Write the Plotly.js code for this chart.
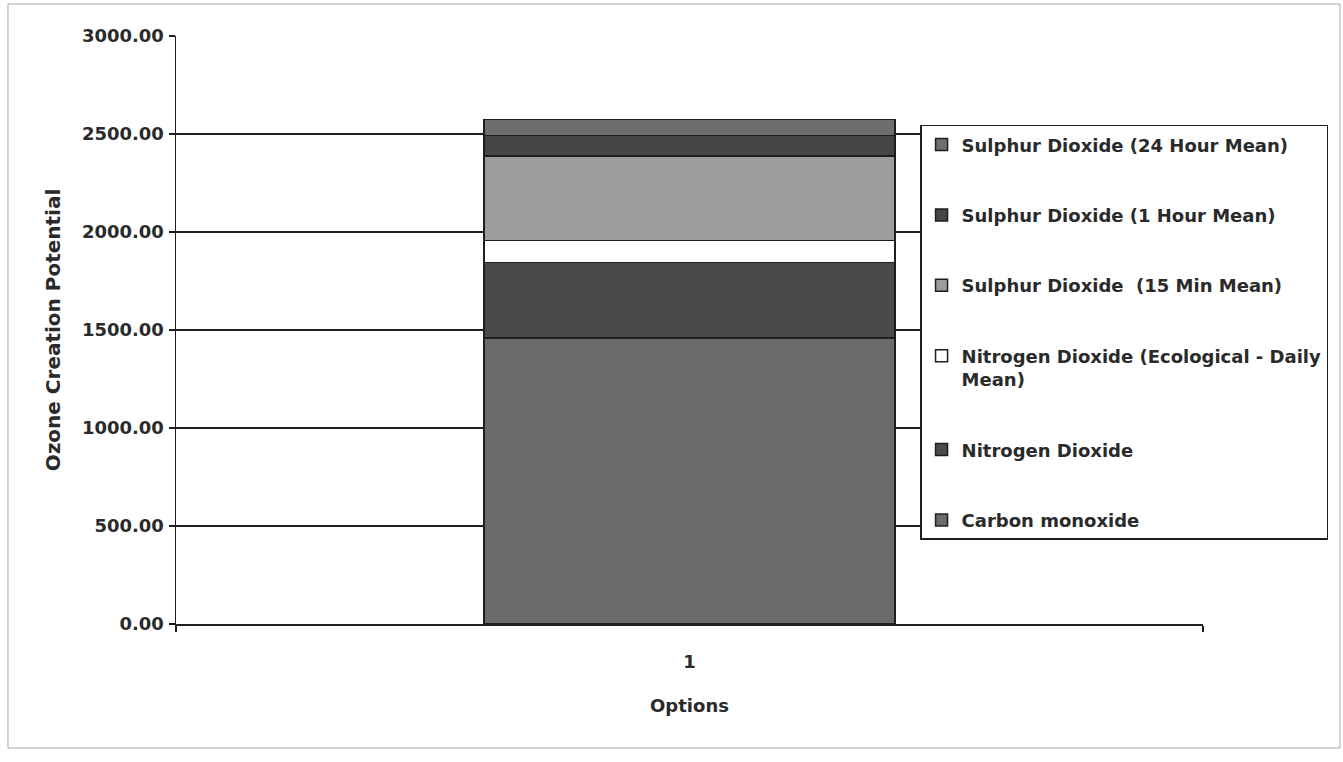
<!DOCTYPE html>
<html>
<head>
<meta charset="utf-8">
<script src="https://cdn.plot.ly/plotly-3.0.1.min.js"></script>
<style>
  html, body { margin: 0; padding: 0; background: #ffffff; }
  #chart { width: 1343px; height: 762px; }
</style>
</head>
<body>
<div id="chart"></div>
<script>
// Ozone creation potential by pollutant, stacked for option 1
const categories = ['1'];

const seriesNames = [
  'Carbon monoxide',
  'Nitrogen Dioxide',
  'Nitrogen Dioxide (Ecological - Daily<br>Mean)',
  'Sulphur Dioxide  (15 Min Mean)',
  'Sulphur Dioxide (1 Hour Mean)',
  'Sulphur Dioxide (24 Hour Mean)'
];

const carbonMonoxide   = [1460];
const nitrogenDioxide  = [384];
const no2Ecological    = [113];
const so2FifteenMin    = [431];
const so2OneHour       = [104];
const so2TwentyFourHr  = [82];

const seriesValues = [
  carbonMonoxide, nitrogenDioxide, no2Ecological,
  so2FifteenMin, so2OneHour, so2TwentyFourHr
];

const seriesColors = ['#6b6b6b', '#4a4a4a', '#ffffff', '#9c9c9c', '#454545', '#6e6e6e'];

const yTickValues = [0, 500, 1000, 1500, 2000, 2500, 3000];
const yTickLabels = ['0.00', '500.00', '1000.00', '1500.00', '2000.00', '2500.00', '3000.00'];

const FONT = 'DejaVu Sans, Arial, sans-serif';
const INK = '#2a2a2a';

// Legend lists the top of the stack first
const traces = seriesNames.map((name, i) => ({
  type: 'bar',
  name: name,
  x: categories,
  y: seriesValues[i],
  legendgroup: 'g' + i,
  legendrank: 1000 - i,
  marker: {
    color: seriesColors[i],
    line: { color: '#1e1e1e', width: 1.5 }
  },
  hoverinfo: 'name+y'
}));

const layout = {
  width: 1343,
  height: 762,
  paper_bgcolor: '#ffffff',
  plot_bgcolor: '#ffffff',
  margin: { l: 176, r: 140, t: 36, b: 138, autoexpand: false },
  barmode: 'stack',
  bargap: 0.6,
  font: { family: FONT, color: INK, size: 18, weight: 'bold' },
  showlegend: true,
  legend: {
    x: 0.7245,
    y: 0.849,
    xanchor: 'left',
    yanchor: 'top',
    bgcolor: '#ffffff',
    bordercolor: '#1e1e1e',
    borderwidth: 1.5,
    traceorder: 'grouped',
    tracegroupgap: 44,
    valign: 'top',
    itemwidth: 30,
    font: { family: FONT, size: 18, color: INK, weight: 'bold' }
  },
  xaxis: {
    type: 'category',
    showline: true,
    linecolor: '#1e1e1e',
    linewidth: 1.5,
    showgrid: false,
    ticks: 'outside',
    tickson: 'boundaries',
    ticklen: 6,
    tickcolor: '#1e1e1e',
    tickwidth: 1.5,
    ticklabelstandoff: 21,
    tickfont: { family: FONT, size: 18, color: INK, weight: 'bold' },
    title: {
      text: 'Options',
      standoff: 28,
      font: { family: FONT, size: 18, color: INK, weight: 'bold' }
    },
    fixedrange: true
  },
  yaxis: {
    range: [0, 3000],
    tickvals: yTickValues,
    ticktext: yTickLabels,
    showline: true,
    linecolor: '#1e1e1e',
    linewidth: 1.5,
    showgrid: true,
    gridcolor: '#1e1e1e',
    gridwidth: 1.5,
    zeroline: false,
    ticks: 'outside',
    ticklen: 6,
    tickcolor: '#1e1e1e',
    tickwidth: 1.5,
    ticklabelstandoff: 1,
    tickfont: { family: FONT, size: 18, color: INK, weight: 'bold' },
    title: {
      text: 'Ozone Creation Potential',
      standoff: 16,
      font: { family: FONT, size: 20, color: INK, weight: 'bold' }
    },
    fixedrange: true
  },
  shapes: [
    {
      type: 'rect',
      xref: 'paper', yref: 'paper',
      x0: -0.1636, x1: 1.1334, y0: -0.2109, y1: 1.0544,
      line: { color: '#a8a8a8', width: 1 },
      fillcolor: 'rgba(0,0,0,0)',
      layer: 'below'
    }
  ]
};

Plotly.newPlot('chart', traces, layout, { displayModeBar: false, staticPlot: true });
</script>
</body>
</html>
